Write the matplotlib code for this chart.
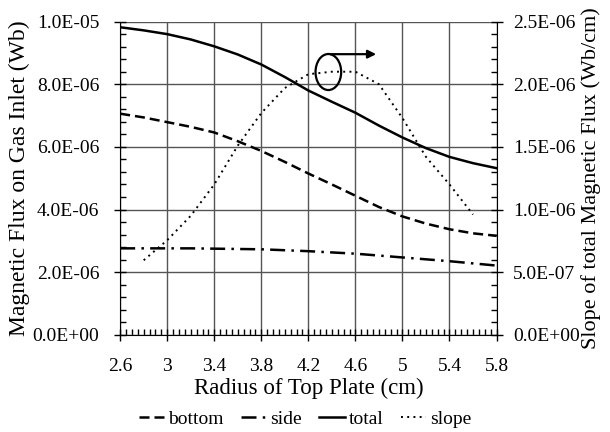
import numpy as np
import matplotlib.pyplot as plt
from matplotlib.patches import Ellipse
from matplotlib.ticker import MultipleLocator, FixedLocator, FuncFormatter

plt.rcParams['font.family'] = ['Liberation Serif', 'DejaVu Serif']

# radius of top plate (cm)
radius = [2.6, 2.8, 3.0, 3.2, 3.4, 3.6, 3.8, 4.0, 4.2, 4.4, 4.6, 4.8, 5.0, 5.2, 5.4, 5.6, 5.8]

# magnetic flux (Wb)
bottom = [7.06e-6, 6.94e-6, 6.79e-6, 6.64e-6, 6.46e-6, 6.18e-6, 5.87e-6, 5.52e-6, 5.15e-6,
          4.80e-6, 4.44e-6, 4.08e-6, 3.78e-6, 3.55e-6, 3.37e-6, 3.24e-6, 3.16e-6]
side = [2.76e-6, 2.76e-6, 2.76e-6, 2.76e-6, 2.75e-6, 2.74e-6, 2.73e-6, 2.70e-6, 2.67e-6,
        2.63e-6, 2.59e-6, 2.53e-6, 2.47e-6, 2.41e-6, 2.35e-6, 2.28e-6, 2.21e-6]
total = [9.82e-6, 9.72e-6, 9.60e-6, 9.43e-6, 9.21e-6, 8.95e-6, 8.63e-6, 8.23e-6, 7.80e-6,
         7.44e-6, 7.09e-6, 6.68e-6, 6.30e-6, 5.96e-6, 5.68e-6, 5.48e-6, 5.32e-6]

# slope of total flux (Wb/cm)
slope_r = [2.8, 3.0, 3.2, 3.4, 3.6, 3.8, 4.0, 4.2, 4.4, 4.6, 4.8, 5.0, 5.2, 5.4, 5.6]
slope = [0.595e-6, 0.755e-6, 0.95e-6, 1.20e-6, 1.51e-6, 1.77e-6, 1.97e-6, 2.08e-6,
         2.10e-6, 2.10e-6, 2.00e-6, 1.73e-6, 1.42e-6, 1.20e-6, 0.96e-6]

x_ticks = [2.6, 3.0, 3.4, 3.8, 4.2, 4.6, 5.0, 5.4, 5.8]


def sci(v, pos):
    return '%.1E' % v


fig = plt.figure(figsize=(6.1, 4.32), dpi=100)
ax1 = fig.add_axes([0.197, 0.225, 0.617, 0.725])
ax2 = ax1.twinx()

ax1.plot(radius, bottom, color='black', lw=1.8, ls=(0, (4, 2)), label='bottom')
ax1.plot(radius, side, color='black', lw=1.8, ls=(0, (6, 2.5, 1, 2.5)), label='side')
ax1.plot(radius, total, color='black', lw=1.8, ls='-', label='total')
ax2.plot(slope_r, slope, color='black', lw=1.4, ls=(0, (1, 2.2)), label='slope')

ax1.set_xlim(2.6, 5.8)
ax1.set_ylim(0, 1e-5)
ax2.set_ylim(0, 2.5e-6)

ax1.xaxis.set_major_locator(FixedLocator(x_ticks))
ax1.xaxis.set_minor_locator(MultipleLocator(0.05))
ax1.yaxis.set_major_locator(MultipleLocator(2e-6))
ax1.yaxis.set_minor_locator(MultipleLocator(4e-7))
ax2.yaxis.set_major_locator(MultipleLocator(5e-7))
ax2.yaxis.set_minor_locator(MultipleLocator(1e-7))
ax1.xaxis.set_major_formatter(FuncFormatter(lambda v, p: ('%.1f' % v).rstrip('0').rstrip('.')))
ax1.yaxis.set_major_formatter(FuncFormatter(sci))
ax2.yaxis.set_major_formatter(FuncFormatter(sci))

ax1.grid(True, which='major', color='#555555', lw=1.0)
ax1.set_axisbelow(True)
for ax in (ax1, ax2):
    ax.tick_params(which='major', direction='inout', length=8, width=1, labelsize=14)
    ax.tick_params(which='minor', direction='in', length=4, width=1)
    for sp in ax.spines.values():
        sp.set_visible(False)
ax1.tick_params(axis='x', which='major', pad=13)
ax1.tick_params(axis='y', which='major', pad=11)
ax2.tick_params(axis='y', which='major', pad=8)
ax1.spines['left'].set_visible(True)
ax1.spines['bottom'].set_visible(True)
ax2.spines['right'].set_visible(True)

ax1.set_xlabel('Radius of Top Plate (cm)', fontsize=16.5, labelpad=2)
ax1.set_ylabel('Magnetic Flux on Gas Inlet (Wb)', fontsize=17, labelpad=2)
ax2.set_ylabel('Slope of total Magnetic Flux (Wb/cm)', fontsize=16, labelpad=1)

# pointer to the right axis
ax1.add_patch(Ellipse((4.37, 8.39e-6), 0.218, 1.15e-6, fill=False, ec='black', lw=1.6, zorder=5))
ax1.annotate('', xy=(4.8, 8.96e-6), xytext=(4.365, 8.96e-6),
             arrowprops=dict(arrowstyle='-|>', color='black', lw=1.6, mutation_scale=12), zorder=5)

h1, l1 = ax1.get_legend_handles_labels()
h2, l2 = ax2.get_legend_handles_labels()
fig.legend(h1 + h2, l1 + l2, loc='center', bbox_to_anchor=(0.5, 0.03), ncol=4, frameon=False,
           fontsize=14, handlelength=1.3, handletextpad=0.2, columnspacing=0.9)

fig.savefig('out.png', dpi=100)
